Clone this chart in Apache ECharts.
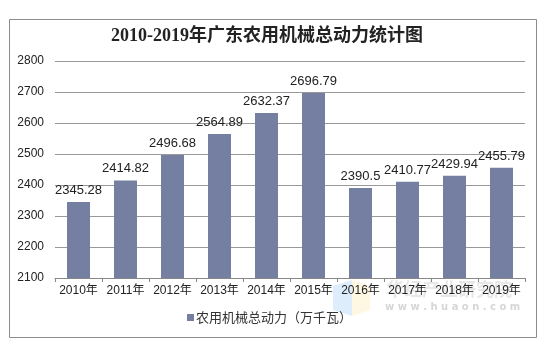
<!DOCTYPE html>
<html><head><meta charset="utf-8">
<script src="https://cdn.jsdelivr.net/npm/echarts@6/dist/echarts.min.js"></script>
<style>html,body{margin:0;padding:0;background:#fff;}#c{width:547px;height:349px;}</style>
</head><body><div id="c"></div>
<script>
const categories = ['2010年','2011年','2012年','2013年','2014年','2015年','2016年','2017年','2018年','2019年'];
const values = [2345.28, 2414.82, 2496.68, 2564.89, 2632.37, 2696.79, 2390.5, 2410.77, 2429.94, 2455.79];
const seriesName = '农用机械总动力（万千瓦）';
const titleText = '2010-2019年广东农用机械总动力统计图';

const chart = echarts.init(document.getElementById('c'));
chart.setOption({
  animation: false,
  backgroundColor: '#fff',
  title: {
    text: titleText, left: 106, top: 22,
    textStyle: {fontFamily: '"Liberation Serif","Noto Sans CJK SC",serif', fontSize: 18, fontWeight: 'bold', color: '#222'}
  },
  graphic: [
    {type: 'rect', shape: {x: 9.5, y: 19.5, width: 527, height: 318}, style: {fill: 'none', stroke: '#8c8c8c', lineWidth: 1}, silent: true, z: -10},
    {type: 'polygon', shape: {points: [[333, 286], [352, 280], [352, 316], [333, 310]]}, style: {fill: 'rgba(200,225,250,0.6)'}, silent: true, z: -10},
    {type: 'polygon', shape: {points: [[352, 280], [370, 286], [370, 310], [352, 316]]}, style: {fill: 'rgba(253,245,215,0.7)'}, silent: true, z: -10},
    {type: 'text', left: 386, top: 280, style: {text: '华经产业研究院', fill: 'rgba(175,175,175,0.3)', font: 'bold 18px "Noto Sans CJK SC"'}, silent: true, z: -10},
    {type: 'text', left: 385, top: 302, style: {text: 'w w w . h u a o n . c o m', fill: 'rgba(165,165,165,0.45)', font: 'bold 10px "DejaVu Sans"'}, silent: true, z: -10}
  ],
  legend: {
    bottom: 20, left: 182, itemWidth: 7, itemHeight: 7, icon: 'rect', itemGap: 4,
    textStyle: {fontFamily: '"Noto Sans CJK SC",sans-serif', fontSize: 13, color: '#333', padding: [0, 0, 0, -3]},
    data: [seriesName]
  },
  grid: {left: 55, right: 22, top: 61, bottom: 71},
  xAxis: {
    type: 'category', data: categories,
    axisLine: {lineStyle: {color: '#888'}},
    axisTick: {show: true, length: 4, lineStyle: {color: '#888'}},
    axisLabel: {color: '#222', fontSize: 12, fontFamily: '"Liberation Sans","Noto Sans CJK SC",sans-serif', margin: 7, interval: 0}
  },
  yAxis: {
    type: 'value', min: 2100, max: 2800, interval: 100,
    axisLine: {show: false}, axisTick: {show: false},
    splitLine: {lineStyle: {color: '#999'}},
    axisLabel: {color: '#222', fontSize: 12, fontFamily: '"Liberation Sans",sans-serif', margin: 11, formatter: v => String(v)}
  },
  series: [{
    name: seriesName, type: 'bar', data: values, barWidth: 23,
    itemStyle: {color: '#747fa2'},
    label: {show: true, position: 'top', distance: 5, color: '#222', fontSize: 13, fontFamily: '"Liberation Sans",sans-serif'}
  }]
});
</script></body></html>
